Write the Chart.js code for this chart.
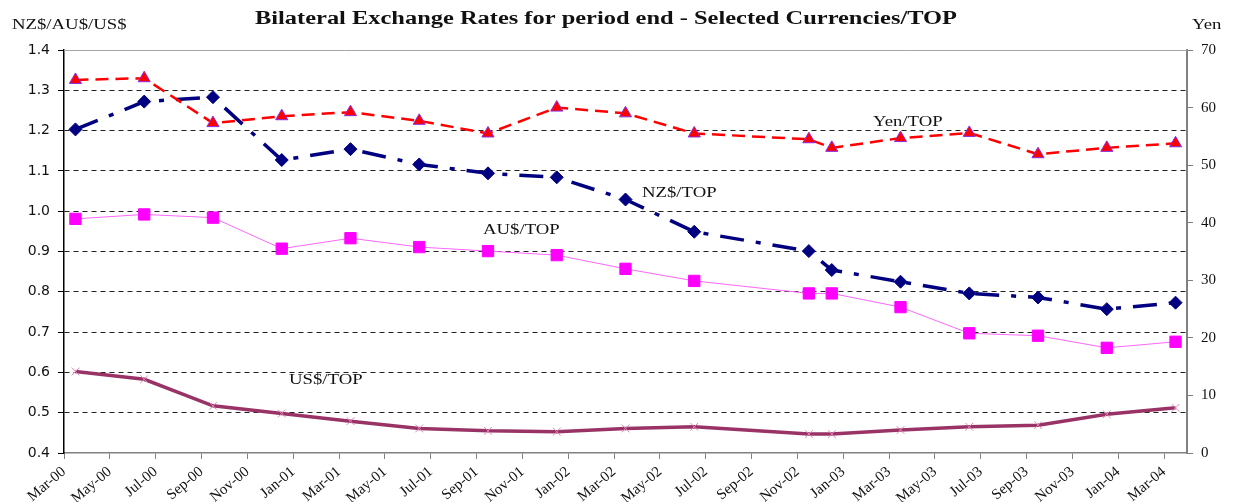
<!DOCTYPE html>
<html>
<head>
<meta charset="utf-8">
<script src="https://cdn.jsdelivr.net/npm/chart.js@4.4.1/dist/chart.umd.min.js"></script>
<style>
  html, body { margin: 0; padding: 0; background: #fff; }
  #wrap { width: 1236px; height: 502px; position: relative; }
</style>
</head>
<body>
<div id="wrap"><canvas id="chartCanvas"></canvas></div>
<script>
// DATA (period end, quarterly + Nov-02)
const periods = ['Mar-00', 'Jun-00', 'Sep-00', 'Dec-00', 'Mar-01', 'Jun-01', 'Sep-01', 'Dec-01',
    'Mar-02', 'Jun-02', 'Nov-02', 'Dec-02', 'Mar-03', 'Jun-03', 'Sep-03', 'Dec-03', 'Mar-04'];
const yenTop = [64.8, 65.1, 57.3, 58.5, 59.2, 57.7, 55.5, 60.0, 59.0, 55.5, 54.5, 53.0, 54.7, 55.6, 51.9, 53.0, 53.8];
const nzTop = [1.203, 1.272, 1.283, 1.127, 1.154, 1.116, 1.094, 1.084, 1.029, 0.949, 0.901, 0.854, 0.825, 0.796, 0.786, 0.757, 0.773];
const auTop = [0.981, 0.992, 0.984, 0.907, 0.933, 0.911, 0.901, 0.891, 0.857, 0.827, 0.796, 0.796, 0.762, 0.697, 0.691, 0.661, 0.676];
const usTop = [0.602, 0.583, 0.517, 0.498, 0.479, 0.461, 0.455, 0.453, 0.461, 0.465, 0.447, 0.447, 0.457, 0.465, 0.469, 0.496, 0.512];

const tickLabels = ['Mar-00', 'May-00', 'Jul-00', 'Sep-00', 'Nov-00', 'Jan-01', 'Mar-01', 'May-01', 'Jul-01',
    'Sep-01', 'Nov-01', 'Jan-02', 'Mar-02', 'May-02', 'Jul-02', 'Sep-02', 'Nov-02', 'Jan-03', 'Mar-03',
    'May-03', 'Jul-03', 'Sep-03', 'Nov-03', 'Jan-04', 'Mar-04'];
const leftTicks = [0.4, 0.5, 0.6, 0.7, 0.8, 0.9, 1.0, 1.1, 1.2, 1.3, 1.4];
const rightTicks = [0, 10, 20, 30, 40, 50, 60, 70];

const TITLE = 'Bilateral Exchange Rates for period end - Selected Currencies/TOP';

// month number counted from Mar-00
const MONTHS = ['Jan', 'Feb', 'Mar', 'Apr', 'May', 'Jun', 'Jul', 'Aug', 'Sep', 'Oct', 'Nov', 'Dec'];
function monthIndex(label) {
    const [m, y] = label.split('-');
    return parseInt(y, 10) * 12 + MONTHS.indexOf(m) - 2;
}
// points sit in the middle of their month
const toPoints = (values) => values.map((v, i) => ({ x: monthIndex(periods[i]) + 0.5, y: v }));

const serif = '"Liberation Serif", "Times New Roman", serif';

// TEXT OVERLAY (title, axis titles, series notes)
const overlay = {
    id: 'overlay',
    afterDraw(chart) {
        const { ctx, chartArea: a } = chart;
        ctx.save();
        ctx.strokeStyle = '#a6a6a6';
        ctx.lineWidth = 1;
        ctx.beginPath();
        ctx.moveTo(a.left, a.top + 0.5);
        ctx.lineTo(a.right, a.top + 0.5);
        ctx.stroke();

        const stretched = (text, font, x, y, sx, align) => {
            ctx.save();
            ctx.font = font;
            ctx.fillStyle = '#111';
            ctx.textBaseline = 'middle';
            ctx.textAlign = align;
            ctx.translate(x, y);
            ctx.scale(sx, 1);
            ctx.fillText(text, 0, 0);
            ctx.restore();
        };

        ctx.font = 'bold 18px ' + serif;
        const tw = ctx.measureText(TITLE).width;
        stretched(TITLE, 'bold 18px ' + serif, 606, 19, 702 / tw, 'center');

        stretched('NZ$/AU$/US$', '15px ' + serif, 12, 25, 1.25, 'left');
        stretched('Yen', '15px ' + serif, 1192, 25, 1.25, 'left');

        stretched('Yen/TOP', '15px ' + serif, 873, 122, 1.25, 'left');
        stretched('NZ$/TOP', '15px ' + serif, 642, 193, 1.25, 'left');
        stretched('AU$/TOP', '15px ' + serif, 483, 230, 1.25, 'left');
        stretched('US$/TOP', '15px ' + serif, 289, 380, 1.25, 'left');
        ctx.restore();
    }
};

const ctx = document.getElementById('chartCanvas').getContext('2d');
new Chart(ctx, {
    type: 'line',
    data: {
        datasets: [
            {
                label: 'Yen/TOP',
                data: toPoints(yenTop),
                yAxisID: 'y2',
                borderColor: '#ff0000',
                borderWidth: 2.5,
                borderDash: [13, 7],
                pointStyle: 'triangle',
                pointRadius: 7,
                pointBackgroundColor: '#ff0000',
                pointBorderColor: '#8a2be2',
                pointBorderWidth: 1
            },
            {
                label: 'NZ$/TOP',
                data: toPoints(nzTop),
                yAxisID: 'y',
                borderColor: '#000080',
                borderWidth: 3.5,
                borderDash: [24, 12, 5, 12],
                pointStyle: 'rectRot',
                pointRadius: 6.5,
                pointBackgroundColor: '#000080',
                pointBorderColor: '#000080',
                pointBorderWidth: 1
            },
            {
                label: 'AU$/TOP',
                data: toPoints(auTop),
                yAxisID: 'y',
                borderColor: '#ff66ff',
                borderWidth: 1,
                pointStyle: 'rect',
                pointRadius: 8,
                pointBackgroundColor: '#ff00ff',
                pointBorderColor: '#ff00ff',
                pointBorderWidth: 1
            },
            {
                label: 'US$/TOP',
                data: toPoints(usTop),
                yAxisID: 'y',
                borderColor: '#993366',
                borderWidth: 3.5,
                pointStyle: 'crossRot',
                pointRadius: 5.5,
                pointBorderColor: '#dd88bb',
                pointBorderWidth: 1
            }
        ]
    },
    options: {
        responsive: true,
        maintainAspectRatio: false,
        animation: false,
        layout: { padding: { top: 50, left: 0, right: 0, bottom: 0 } },
        elements: { line: { tension: 0 } },
        plugins: {
            legend: { display: false },
            tooltip: { enabled: false }
        },
        scales: {
            x: {
                type: 'linear',
                min: 0,
                max: 49,
                afterBuildTicks: (scale) => { scale.ticks = tickLabels.map(l => ({ value: monthIndex(l) })); },
                afterFit: (scale) => { scale.height = 49; },
                grid: { drawOnChartArea: false, tickLength: 6, color: '#808080' },
                border: { color: '#808080', width: 1.5 },
                ticks: {
                    autoSkip: false,
                    maxRotation: 40,
                    minRotation: 40,
                    padding: 4,
                    color: '#111',
                    font: { family: serif, size: 15 },
                    callback: (v) => tickLabels.find(l => monthIndex(l) === v) || ''
                }
            },
            y: {
                position: 'left',
                min: 0.4,
                max: 1.4,
                afterBuildTicks: (scale) => { scale.ticks = leftTicks.map(v => ({ value: v })); },
                afterFit: (scale) => { scale.width = 64; },
                grid: {
                    color: (c) => (c.tick && (Math.abs(c.tick.value - 1.4) < 1e-6 || Math.abs(c.tick.value - 0.4) < 1e-6)) ? 'rgba(0,0,0,0)' : '#222',
                    lineWidth: 1,
                    tickLength: 6,
                    tickColor: '#000'
                },
                border: { color: '#000', width: 1.5, dash: [5, 4] },
                ticks: {
                    padding: 8,
                    color: '#111',
                    font: { family: '"DejaVu Sans", sans-serif', size: 14 },
                    callback: (v) => v.toFixed(1)
                }
            },
            y2: {
                position: 'right',
                min: 0,
                max: 70,
                afterBuildTicks: (scale) => { scale.ticks = rightTicks.map(v => ({ value: v })); },
                afterFit: (scale) => { scale.width = 49; },
                grid: { drawOnChartArea: false, tickLength: 6, color: '#808080' },
                border: { color: '#808080', width: 2 },
                ticks: {
                    padding: 8,
                    color: '#111',
                    font: { family: serif, size: 15 }
                }
            }
        }
    },
    plugins: [overlay]
});
</script>
</body>
</html>
